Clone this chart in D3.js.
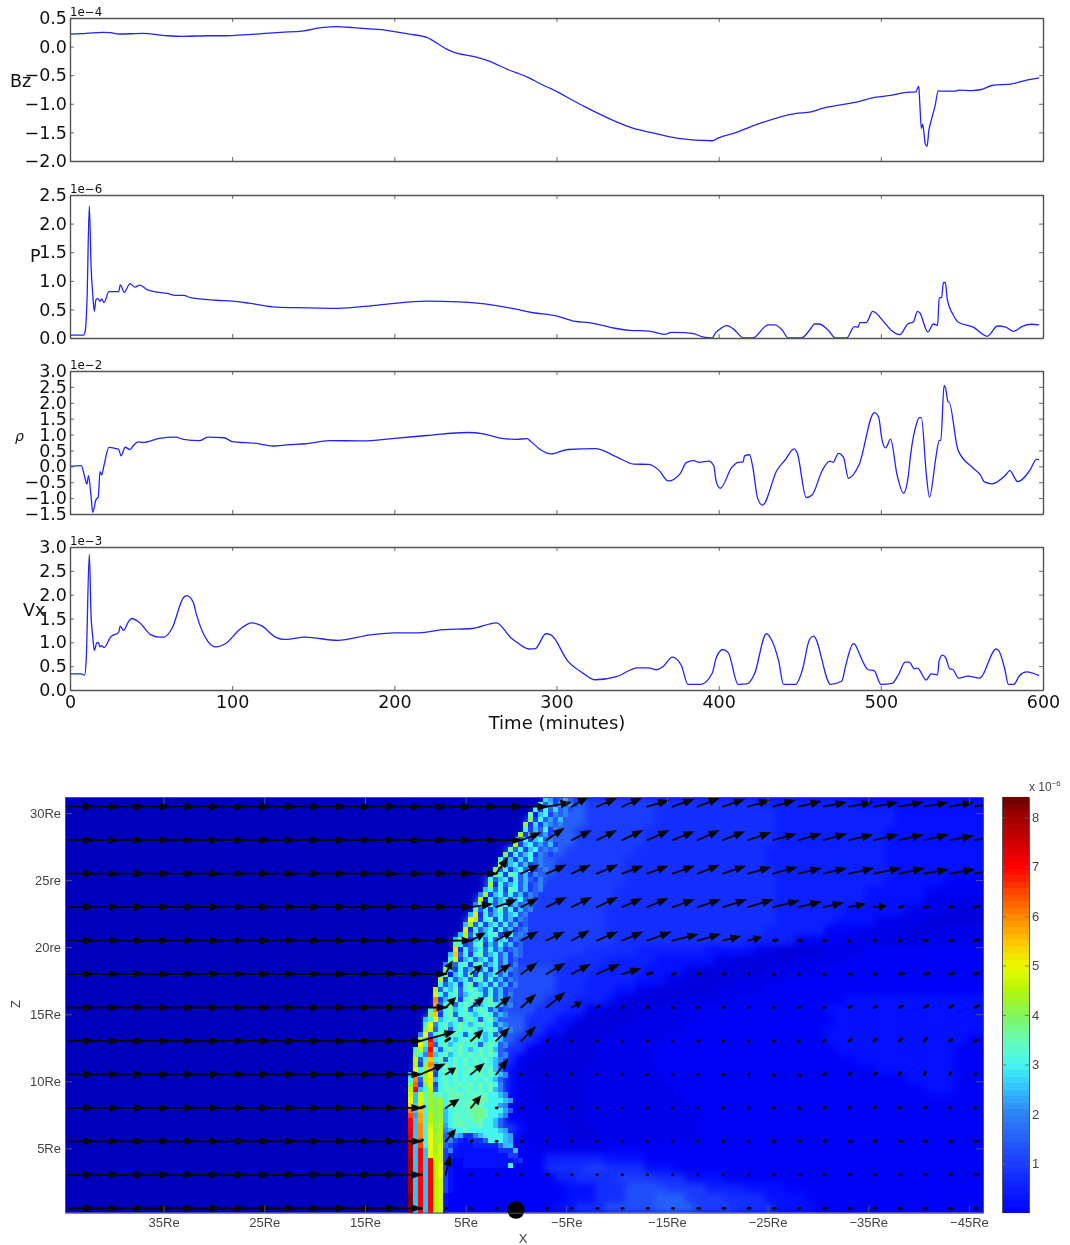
<!DOCTYPE html>
<html>
<head>
<meta charset="utf-8">
<title>Bz, P, rho, Vx and density cut</title>
<script src="https://d3js.org/d3.v7.min.js"></script>
<style>
	html, body { margin: 0; padding: 0; background: #fff; }
	svg { display: block; filter: blur(.35px); }
	.ts text { font-family: "DejaVu Sans", sans-serif; fill: #111; }
	.cut text { font-family: "Liberation Sans", sans-serif; fill: #444; }
</style>
</head>
<body>
<div id="chart"></div>
<script>
// time series
var bzT = [0,10,20,25,30,45,60,70,85,95,110,120,130,143,155,165,175,185,195,200,210,220,232,237,250,258,270,284,290,296.6,315.7,337,347.6,358,375,396,399.6,411,424,447,457,464,488,494,507,515.6,521.6,523.4,524,525,525.8,527.4,528.5,529.6,531,533.4,535.5,536.6,546,548,556,562,568.4,581,590,597.6];
var bzV = [.22,.23,.25,.245,.22,.23,.19,.18,.19,.19,.21,.23,.25,.27,.33,.35,.33,.31,.285,.26,.215,.16,-.04,-.10,-.18,-.25,-.40,-.56,-.65,-.735,-1.025,-1.315,-1.43,-1.50,-1.605,-1.646,-1.6,-1.5,-1.356,-1.17,-1.14,-1.08,-.95,-.9,-.85,-.8,-.79,-.69,-.98,-1.43,-1.356,-1.7,-1.745,-1.47,-1.3,-1.04,-.77,-.78,-.78,-.76,-.77,-.75,-.68,-.65,-.585,-.545];

var pT = [0,8.5,9.5,10.5,11.9,13,14,15,16,17.2,18.5,19.5,21,24,30,31,33.4,37,40,43,48,52,60,65,70,75,90,100,110,125,140,165,190,220,240,260,275,284,301,311.5,320,335,345,357,366.7,371,379,384.6,390,396,398,399.6,405,409,415.5,421,430.5,434.6,439,443,451,457,459,462,467.6,472,479,483.6,486,487,491,495,501.6,506,511.7,516.6,520,522.6,524,529,532.4,535,536,537.5,538.6,539.8,541,544.5,547.6,557,565.6,572,577,582,587,593,597.6];
var pV = [.05,.05,.145,.67,2.31,1.25,.78,.465,.67,.69,.64,.685,.62,.81,.81,.93,.8,.95,.89,.925,.84,.81,.78,.745,.745,.70,.66,.645,.61,.545,.53,.517,.575,.645,.63,.58,.505,.45,.38,.29,.27,.175,.135,.12,.065,.1,.095,.075,.02,0,.09,.13,.215,.16,0,0,.23,.23,.145,0,0,.175,.245,.245,.135,0,0,.2,.185,.27,.27,.465,.29,.145,.06,.245,.28,.465,.44,.105,.245,.22,.7,.71,.97,.97,.67,.41,.28,.19,.03,.21,.19,.115,.2,.24,.23];

var rhoT = [0,7,9,10.4,11.4,13,14,16,17.4,18.5,19.5,21,24,28,30,31.5,34,37,39,42,45,55,65,70,80,85,95,100,115,125,135,145,160,180,200,220,245,255,265,275,282,284,290,296.6,307,324,337,347.6,357,363.4,368.8,376.4,380,384.6,388,394,397,398.5,401,408,412,415,416,419,421,424,427,436,441,446.5,448.5,454,457.6,464,468.6,470.6,473.8,477,480,486.5,496,498.6,500.8,503,506,510,514,517,518.4,522,523.7,525,528,530,534,536,537,539,540,541.5,542,547.6,557,561.4,563.6,568.6,577,579.5,584.4,592,596,597.6];
var rhoV = [0,.02,-.32,-.56,-.29,-.95,-1.45,-1.05,-.97,-.17,-.27,.04,.595,.56,.53,.33,.6,.53,.65,.77,.75,.88,.92,.85,.81,.92,.9,.78,.72,.64,.68,.71,.81,.80,.88,.97,1.065,1.02,.89,.85,.87,.79,.53,.39,.53,.56,.30,.07,.06,-.135,-.46,-.22,.115,.18,.125,.165,.01,-.48,-.69,-.04,.125,.135,.33,.365,-.01,-1.0,-1.22,-.115,.2,.55,.41,-.98,-.90,-.115,.165,.125,.41,.28,-.375,.04,1.69,1.55,.82,.58,.855,-.27,-.845,-.27,.375,1.34,1.53,1.53,-.22,-.97,.30,.82,.82,2.55,2.44,2.02,2.02,.51,-.06,-.27,-.48,-.55,-.27,-.135,-.48,-.115,.22,.21];

var vxT = [0,7,9,10,11.9,13,14,15,16.5,17.5,18.5,19.5,21,25,30,31,33,36,38,43,50,55,58,63,70,72,76,78,85,90,96,105,112,118,127,132,145,165,185,200,215,230,248,263,272,276,283,287,293.4,296.6,307,316,324,337,350,357,361.6,366,371.4,377,381,389,396,398.5,402.6,406,412,417.6,422,429.4,432.5,437,440,447.5,451.7,456,458.5,469,476,478,483,484.4,486.5,492,496,500,507,511,515,517.6,520.6,522.6,528,531,535,536,538,540,542.5,544.4,548,553.7,561,571,572.6,576.5,578.6,582,585.6,590,597.6];
var vxV = [.34,.34,.31,.64,2.85,1.545,1.13,.83,.99,1.0,.905,.93,.89,1.11,1.21,1.34,1.25,1.43,1.50,1.41,1.155,1.11,1.11,1.30,1.94,1.98,1.84,1.58,1.02,.905,.975,1.28,1.41,1.35,1.105,1.06,1.11,1.04,1.155,1.2,1.2,1.265,1.29,1.41,1.09,.99,.86,.87,1.18,1.155,.605,.36,.215,.28,.465,.465,.425,.5,.69,.515,.12,.12,.35,.675,.85,.78,.12,.13,.33,1.18,1.06,.605,.12,.12,.43,1.06,1.13,.12,.19,.465,.97,.94,.78,.43,.40,.12,.14,.33,.585,.585,.445,.46,.21,.34,.32,.62,.73,.675,.445,.43,.25,.29,.25,.86,.83,.43,.12,.12,.305,.38,.30];

var timeTicks = [0,100,200,300,400,500,600];
var bzTicks = [-2,-1.5,-1,-.5,0,.5];
var pTicks = [0,.5,1,1.5,2,2.5];
var rhoTicks = [-1.5,-1,-.5,0,.5,1,1.5,2,2.5,3];
var vxTicks = [0,.5,1,1.5,2,2.5,3];

// density cut: level letters, a = -1 then +0.25 per letter (a..z A..L)
var levelChars = "abcdefghijklmnopqrstuvwxyzABCDEFGHIJKL";
// coarse field right of x=405, 58 cols, run length per row
var fieldRuns = [
"a14k4i7h10g10f13","a13k5i7h12g12f9","a12k6i7h12g12f9","a12k5i7h13g11f10","a11k6i7h13g11f10","a10k6i7h13g12f10",
"a10k5i7h14g12f10","a9k6i7h15g12f9","a8k6i8h15g11f6e4","a8k5i8h16g9f6e6","a7k6i8h16g9f6d6","a7k5i8h17g7f6d4c4",
"a6k6i8h17g6f4d5c6","a6k5i9h16g6e4d4c4d4","a5k6i10h13g5e5d4c4d6","a5k5i8h5g7f5d2c5d4e12","a5k5i6h4g5f6d2c6d5e14","a4l6j5h4g5f4d2c6d5e17",
"a4l5j6h3g5f3d2c5d5e20","a4l5j6h3g3f2d2c6d5e22","a3l6j5h3g3f1d1c6d5e11f14","a3l6j4h3g2d2c5d5e12f16","a2m7k3h3f2d1c5d6e14f15","a2m7k3h2f2c5d7e14f16",
"a2m7k2h2f1d1c4d7e16f14e2","a2m6k2h2e1d1c5d6e18f12e3","a1m7k2h1e1d1c6d6e20f10e3","a1m7k1h1f1d1c6d7e22f8e3","a1m7k2f1d2c5d8e24f5e3","m8k2f1d2c5d9e25f3e3",
"m8k2e1d2c5d10e30","m8k2e1d3c4d11e29","m7k3e2d3c3d12e28","f9i2f1d4c3d10e29","f10e2d5c2d11e28","f6e7d7e38",
"e14g6f4e34","e14h4i2h4f3e31","e15g2h4i4h3f4e26","e16f3h3j4i4g4f4e20","e16f3h3j3k3i4h4f4e18","e15f2h3j5k4i4h4f4e17"
];
// fine cells along the shock, first col per row and then the cells
var shockStart = [27,26,25,24,24,23,23,22,21,21,20,19,18,18,17,17,16,16,15,14,14,13,13,12,12,11,11,10,9,9,9,8,8,7,7,6,6,6,5,5,5,5,4,4,3,3,3,2,2,2,1,1,1,1,1,0,0,0,0,0,0,0,0,0,0,0,0,0,0,0,0,0,0,0,0,0,0,0,0,0,0,0,0];
var shockCells = [
"pnikoki","qkoinkmi","riqkpkmj","sfoqimkm","uiqknkok","vhpiomkmk","qiokqimk","vioqknimk","ukqioqkmk","wioqknkoi",
"tkqioqkmkm","uiqkoqimki","qkoipkqkmk","wioqkoikmk","ukqioqkqikm","uqisqkoimk","qkoqiqkokim","vhqkoqkoikm","oqkqisqkoikm","mvioqkqkoimk",
"wfqkoqioqkmi","msiqkoqkokmk","skqioskqiokm","oxhqkoqkoqkmi","ywiqsiqkoimk","ovkqioqkqkoik","xhqkoqiqkoikm","owkqkoqsioqkmk","osxioqkqkoqimk","uqikqsiokqkoik",
"zhqkoqkqkoikmk","oAkqiqskoqkoimk","qxioqkoqkqkoik","mqkqsiqskoqkoim","uoiqkoqkqiqkomk","ovfoqksiqkoqkoik","whqkoqkqskqkoimk","qkoqiqsioqkqkoim","wkqoskqsqokqkoik","xqkqskoqsqkqkoim",
"Cioqsiqsqkqskoik","Bkqskqsqkoqsqokm","qCkqsoqskqsqkoik","uAiqskqsqoqsqkom","oqyoqsqkqsqkqsok","qymqsoqsqoqsqqkom","uxkqskqsqsqoqsqkom","mykqsoqsqkqsqoqkoi","wqGoqsqoqsqsqoqsok","yqEkqsoqsqsqkqsqkm",
"qwoGqkqsqsqoqsqsok","uqmEoqsoqsqsqsqsqkm","xkqAqskqsqsqsqsqom","wiuCoqsqsqsqsqsqok","yqwAkqsqsqrsqsqsok","oBqvyiqsqsqsqrsqsqom","qCkwzoqsqsqrqsqsqok","uDiuxiqsqrsrsqsqsqm","wGoqwkqssrqrsqsqsom",
"xoxsvrsqsssrrsrsqqom","yoxsvuvqssrrsstsqqqon","zpzqvuvqssrsstsqqqnm","CoAqvuvoqsrrsttsqqqnk","EnBqwuvoqsrrsttsqqom","GoBqwuvoqssrrtsqqok","GoCqxuwnqssrrrsqqok","HoCqyuwmoqqsqqqqqqon","IoCqyvwkmonhhmoqqqqon","IoDqyvwkmigfhhhkqqqon",
"JoEqyvxkigfffgggggkoo","JoGoyvximfffffffffhhho","JoGoywxigfffffffffffii","KoGoGwxifeeffffffffffgh","KoGoGwyifeefffffffffq","KoGoGwyife","KoGoGwyife","KoGoGwxife","KoGoGwxife","KoGoGwxif",
"LoGoGwxf","LoGoGwxf","LoGoGwxf","LoGoGwxf"
];

// quiver: leading unit arrows per row, then dx,dy in arrow units for the rest of the row
var quiverFlat = [19,18,17,16,16,15,15,14,14,14,14,14,14];
var quiverDx = [
[23,15,18,18,20,20,20,20,20,20,21,21,22,22,22,22,22,22],
[18,16,18,18,19,20,20,20,20,21,21,21,21,22,22,22,22,22,22],
[11,16,18,17,19,19,19,20,20,21,21,22,21,21,23,25,23,22,23,22],
[20,19,15,18,18,19,18,19,20,21,22,23,24,21,18,15,11,8,7,6,7],
[13,16,15,16,16,19,19,22,24,21,16,12,8,6,5,2,4,4,6,7,8],
[6,10,13,14,17,17,21,17,9,6,6,3,2,2,2,4,5,6,9,9,9,8],
[9,12,13,13,17,9,5,3,2,2,3,2,2,2,3,3,5,5,6,7,7,8],
[33,8,11,12,13,4,1,1,1,1,1,3,2,2,2,2,3,5,5,5,4,5,5],
[23,9,12,11,1,1,1,1,1,1,1,2,2,2,3,4,4,4,5,3,2,2,2],
[8,12,9,2,2,1,1,1,1,1,1,2,2,2,3,4,4,4,4,4,4,2,2],
[4,9,3,2,2,1,1,1,1,1,1,1,2,2,4,4,5,5,5,5,5,5,5],
[2,4,1,3,2,4,1,1,1,1,1,1,1,2,3,4,5,5,4,5,5,5,5],
[2,2,2,2,2,2,1,2,2,2,2,4,4,4,4,3,5,5,4,4,4,4,4]
];
var quiverDy = [
[-4,-9,-8,-8,-6,-7,-8,-7,-6,-6,-5,-4,-4,-4,-4,-4,-4,-4],
[-7,-11,-9,-9,-9,-9,-8,-9,-8,-7,-6,-6,-6,-5,-5,-5,-5,-4,-4],
[-15,-8,-8,-8,-8,-7,-7,-7,-8,-7,-6,-6,-5,-5,-5,-5,-5,-4,-4,-4],
[-3,-7,-8,-9,-9,-9,-8,-8,-7,-7,-7,-7,-6,-5,-4,-3,-1,-1,-1,-1,-2],
[-7,-9,-8,-8,-9,-8,-8,-8,-6,-6,-4,-3,-1,0,0,2,0,0,0,-1,-2],
[-12,-8,-9,-10,-10,-9,-9,-5,-2,-1,-1,0,0,2,2,1,0,0,-1,-2,-2,-2],
[-9,-9,-10,-12,-14,-5,-3,-1,0,0,0,0,0,0,0,0,-2,-2,-3,-4,-4,-4],
[-9,-5,-10,-12,-13,-2,0,0,0,0,0,0,0,0,0,1,-2,-3,-4,-4,-5,-3,-2],
[-10,-6,-10,-14,0,0,0,0,0,0,0,0,0,0,2,2,-2,-3,-3,-4,-5,-4,-1],
[-3,-8,-11,0,0,0,0,0,0,0,0,0,0,0,0,2,-1,-2,-2,-1,-1,-1,-1],
[-3,-11,-1,0,0,0,0,0,0,0,0,0,0,0,0,0,-1,0,-1,0,0,0,0],
[0,-18,0,0,0,0,0,0,0,0,0,0,0,0,0,0,0,-1,0,0,-1,-1,-1],
[0,0,0,0,0,0,0,0,0,0,0,0,0,0,0,0,0,0,0,0,0,0,0]
];

var reTicksX = [35,25,15,5,-5,-15,-25,-35,-45];
var reTicksZ = [5,10,15,20,25,30];
var reLabelsZ = ["5Re","10Re","15Re","20re","25re","30Re"];
var barTicks = [1,2,3,4,5,6,7,8];

var colorStops = [-1,-.5,0,.25,.5,1,1.5,2,2.5,3,3.5,4,4.5,5,5.5,6,7,8,8.4];
var colorValues = ["#0000bc","#0000dc","#0002f6","#0410ff","#0c20ff","#1a3cfc","#2660f8","#2d82f5","#32beff","#46f5f0","#68fbb8","#82f55a","#b4f50a","#ebfa00","#ffc300","#ff8700","#ff0000","#a00000","#6e0000"];

var fmtMinus = function (d, digits) {
	return d3.format("." + digits + "f")(d).replace("-", "\u2212");
};

var svg = d3.select("#chart").append("svg").attr("width", 1070).attr("height", 1245);

var panels = [
	{ t: bzT, v: bzV, top: 18, bottom: 161, dom: [-2, .5], ticks: bzTicks, exp: "1e\u22124", name: "Bz", nx: 10, ny: 87, size: 17.5 },
	{ t: pT, v: pV, top: 195, bottom: 338, dom: [0, 2.5], ticks: pTicks, exp: "1e\u22126", name: "P", nx: 30, ny: 262, size: 17.5 },
	{ t: rhoT, v: rhoV, top: 371, bottom: 514, dom: [-1.5, 3], ticks: rhoTicks, exp: "1e\u22122", name: "\u03c1", nx: 15, ny: 441, size: 14 },
	{ t: vxT, v: vxV, top: 547, bottom: 690, dom: [0, 3], ticks: vxTicks, exp: "1e\u22123", name: "Vx", nx: 23, ny: 616, size: 17.5 }
];

var x = d3.scaleLinear().domain([0, 600]).range([70, 1043]);
var tsGroup = svg.append("g").attr("class", "ts");

panels.forEach(function (p, i) {
	var y = d3.scaleLinear().domain(p.dom).range([p.bottom, p.top]);
	var g = tsGroup.append("g");

	var line = d3.line().curve(d3.curveMonotoneX).x(function (d) { return x(d[0]); }).y(function (d) { return y(d[1]); });
	g.append("path")
		.datum(p.t.map(function (t, k) { return [t, p.v[k]]; }))
		.attr("d", line)
		.attr("fill", "none")
		.attr("stroke", "#2222ff")
		.attr("stroke-width", 1.3);

	var axes = [
		[d3.axisLeft(y).tickValues(p.ticks).tickSize(-4).tickSizeOuter(0).tickPadding(3).tickFormat(function (d) { return fmtMinus(d, 1); }), "translate(70,0)"],
		[d3.axisRight(y).tickValues(p.ticks).tickSize(-4).tickSizeOuter(0).tickFormat(""), "translate(1043,0)"],
		[d3.axisTop(x).tickValues(timeTicks).tickSize(-4).tickSizeOuter(0).tickFormat(""), "translate(0," + p.top + ")"],
		[d3.axisBottom(x).tickValues(timeTicks).tickSize(-4).tickSizeOuter(0).tickPadding(6).tickFormat(i == 3 ? d3.format("d") : ""), "translate(0," + p.bottom + ")"]
	];
	axes.forEach(function (a) {
		var ag = g.append("g").attr("transform", a[1]).call(a[0]);
		ag.select(".domain").attr("stroke", "#555").attr("stroke-width", 1.4);
		ag.selectAll(".tick line").attr("stroke", "#444").attr("stroke-width", .8);
		ag.selectAll("text").attr("font-family", null).attr("font-size", 17.5).attr("fill", "#111");
	});

	g.append("text").attr("x", 70).attr("y", p.top - 2).attr("font-size", 11.8).text(p.exp);
	g.append("text").attr("x", p.nx).attr("y", p.ny).attr("font-size", p.size)
		.attr("font-style", p.name == "\u03c1" ? "italic" : null).text(p.name);
});

tsGroup.append("text").attr("x", 557).attr("y", 729).attr("text-anchor", "middle").attr("font-size", 18).text("Time (minutes)");

// lower panel
var frame = { left: 65, right: 983, top: 797, bottom: 1212.7 };
var xRe = d3.scaleLinear().domain([44.8, -46.4]).range([frame.left, frame.right]);
var zRe = d3.scaleLinear().domain([.2, 31.2]).range([frame.bottom, frame.top]);
var color = d3.scaleLinear().domain(colorStops).range(colorValues).clamp(true);
var levelValue = function (ch) { return -1 + levelChars.indexOf(ch) * .25; };

var cut = svg.append("g").attr("class", "cut");
cut.append("clipPath").attr("id", "frameClip").append("rect")
	.attr("x", frame.left).attr("y", frame.top)
	.attr("width", frame.right - frame.left).attr("height", frame.bottom - frame.top);

var heat = cut.append("g").attr("clip-path", "url(#frameClip)");

// field runs, softened so the coarse blocks do not show
heat.append("rect")
	.attr("x", frame.left).attr("y", frame.top)
	.attr("width", frame.right - frame.left).attr("height", frame.bottom - frame.top)
	.attr("fill", color(0));
var fieldX = d3.scaleLinear().domain([0, 58]).range([405, 985]);
var fieldY = d3.scaleLinear().domain([0, fieldRuns.length]).range([frame.top, frame.bottom]);
var runs = [];
fieldRuns.forEach(function (row, r) {
	var col = 0;
	(row.match(/[a-zA-Z]\d+/g) || []).forEach(function (s) {
		var n = +s.slice(1);
		runs.push({ r: r, col: col, n: n, v: levelValue(s[0]) });
		col += n;
	});
});
heat.append("g").style("filter", "blur(3px)")
	.selectAll("rect").data(runs).enter().append("rect")
	.attr("x", function (d) { return fieldX(d.col); })
	.attr("y", function (d) { return fieldY(d.r); })
	.attr("width", function (d) { return fieldX(d.n) - fieldX(0) + (d.col + d.n >= 58 ? 10 : 0); })
	.attr("height", fieldY(1) - fieldY(0) + .5)
	.attr("fill", function (d) { return color(d.v); });

// solar wind side, lowest level
heat.append("rect")
	.attr("x", frame.left).attr("y", frame.top)
	.attr("width", 408 - frame.left).attr("height", frame.bottom - frame.top)
	.attr("fill", color(-1));

// fine cells
var shockX = d3.scaleLinear().domain([0, 1]).range([408, 413]);
var shockY = d3.scaleLinear().domain([0, shockCells.length]).range([frame.top, frame.bottom]);
var cells = [];
shockCells.forEach(function (row, r) {
	row.split("").forEach(function (ch, k) {
		cells.push({ r: r, c: shockStart[r] + k, v: levelValue(ch) });
	});
});
heat.append("g").attr("shape-rendering", "crispEdges")
	.selectAll("rect").data(cells).enter().append("rect")
	.attr("x", function (d) { return shockX(d.c); })
	.attr("y", function (d) { return shockY(d.r); })
	.attr("width", shockX(1) - shockX(0))
	.attr("height", shockY(1) - shockY(0) + .3)
	.attr("fill", function (d) { return color(d.v); });

// quiver
var colX = d3.scaleLinear().domain([0, 36]).range([67.7, 974.9]);
var rowY = d3.scaleLinear().domain([0, 12]).range([806.7, 1208.3]);
var arrows = [];
quiverFlat.forEach(function (n, r) {
	d3.range(37).forEach(function (k) {
		var a = k < n ? { dx: 25, dy: 0 } : { dx: quiverDx[r][k - n], dy: quiverDy[r][k - n] };
		a.k = k;
		a.r = r;
		a.len = Math.sqrt(a.dx * a.dx + a.dy * a.dy);
		arrows.push(a);
	});
});
var arrowPath = function (d) {
	var x0 = colX(d.k), y0 = rowY(d.r);
	var ux = d.dx / d.len, uy = d.dy / d.len;
	var tipx = x0 + d.dx, tipy = y0 + d.dy;
	// short ones are only a blob in the picture
	if (d.len < 10) return "M" + x0 + "," + y0 + "L" + (x0 + d.dx * .5) + "," + (y0 + d.dy * .5);
	var hl = Math.min(8, d.len * .45);
	var hw = d.dy == 0 ? 2.6 : 2.9;
	var bx = tipx - ux * hl, by = tipy - uy * hl;
	return "M" + x0 + "," + y0 + "L" + bx + "," + by +
		"M" + (bx - uy * hw) + "," + (by + ux * hw) +
		"L" + tipx + "," + tipy +
		"L" + (bx + uy * hw) + "," + (by - ux * hw) + "Z";
};
cut.append("g").attr("clip-path", "url(#frameClip)")
	.selectAll("path").data(arrows).enter().append("path")
	.attr("d", arrowPath)
	.attr("fill", "#0a0a0a")
	.attr("stroke", "#0a0a0a")
	.attr("stroke-linecap", "round")
	.attr("stroke-width", function (d) { return d.len < 10 ? 2.8 : 1.8; });

// earth
cut.append("circle").attr("cx", xRe(0)).attr("cy", 1210).attr("r", 8.7).attr("fill", "#000");

var styleCutAxis = function (ag) {
	ag.select(".domain").attr("stroke", "#555").attr("stroke-width", 1);
	ag.selectAll(".tick line").attr("stroke", "#666").attr("stroke-width", .8);
	ag.selectAll("text").attr("font-family", null).attr("font-size", 13).attr("fill", "#444");
};
var reFmt = function (d) { return String(d).replace("-", "\u2212") + "Re"; };
styleCutAxis(cut.append("g").attr("transform", "translate(0," + frame.bottom + ")")
	.call(d3.axisBottom(xRe).tickValues(reTicksX).tickSize(-7).tickSizeOuter(0).tickPadding(5).tickFormat(reFmt)));
styleCutAxis(cut.append("g").attr("transform", "translate(0," + frame.top + ")")
	.call(d3.axisTop(xRe).tickValues(reTicksX).tickSize(-7).tickSizeOuter(0).tickFormat("")));
styleCutAxis(cut.append("g").attr("transform", "translate(" + frame.left + ",0)")
	.call(d3.axisLeft(zRe).tickValues(reTicksZ).tickSize(-7).tickSizeOuter(0).tickPadding(4)
		.tickFormat(function (d, i) { return reLabelsZ[i]; })));
styleCutAxis(cut.append("g").attr("transform", "translate(" + frame.right + ",0)")
	.call(d3.axisRight(zRe).tickValues(reTicksZ).tickSize(-7).tickSizeOuter(0).tickFormat("")));

cut.append("text").attr("x", 523).attr("y", 1243).attr("text-anchor", "middle").attr("font-size", 13).text("X");
cut.append("text").attr("transform", "translate(20,1004) rotate(-90)").attr("text-anchor", "middle").attr("font-size", 13).text("Z");

// colour bar
var barY = d3.scaleLinear().domain([0, 8.41]).range([frame.bottom, frame.top]);
var barBands = d3.range(64);
var bandH = (frame.bottom - frame.top) / 64;
cut.append("g").attr("shape-rendering", "crispEdges")
	.selectAll("rect").data(barBands).enter().append("rect")
	.attr("x", 1002).attr("width", 27)
	.attr("y", function (d) { return barY((d + 1) * 8.41 / 64); })
	.attr("height", bandH + .5)
	.attr("fill", function (d) { return color((d + .5) * 8.41 / 64); });
styleCutAxis(cut.append("g").attr("transform", "translate(1002,0)")
	.call(d3.axisLeft(barY).tickValues(barTicks).tickSize(-4).tickSizeOuter(0).tickFormat("")));
styleCutAxis(cut.append("g").attr("transform", "translate(1029,0)")
	.call(d3.axisRight(barY).tickValues(barTicks).tickSize(-4).tickSizeOuter(0).tickPadding(3).tickFormat(d3.format("d"))));
var barTop = cut.append("text").attr("x", 1029).attr("y", 791).attr("font-size", 12);
barTop.append("tspan").text("x 10");
barTop.append("tspan").attr("dy", -5).attr("font-size", 8).text("\u22126");
</script>
</body>
</html>
